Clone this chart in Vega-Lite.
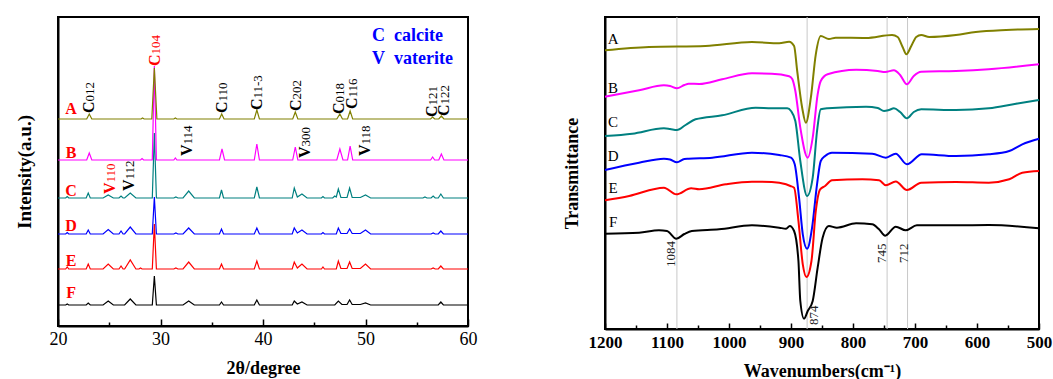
{
"$schema": "https://vega.github.io/schema/vega-lite/v6.json",
"padding": {"left": 14, "top": 15, "right": 0, "bottom": 0},
"background": "white",
"spacing": 84,
"config": {
  "view": {"stroke": "black", "strokeWidth": 2},
  "font": "Liberation Serif",
  "axis": {"labelFont": "Liberation Serif", "titleFont": "Liberation Serif", "labelColor": "black", "titleColor": "black", "domainColor": "black", "tickColor": "black", "domainWidth": 2, "tickWidth": 1.5, "grid": false}
},
"datasets": {
  "xrd": [
    {"s":"F","t":20,"i":21},{"s":"F","t":20.75,"i":21},{"s":"F","t":20.9,"i":22},{"s":"F","t":21.05,"i":21},{"s":"F","t":22.75,"i":21},{"s":"F","t":22.95,"i":23},{"s":"F","t":23.15,"i":21},{"s":"F","t":24.4,"i":21},{"s":"F","t":24.9,"i":25},{"s":"F","t":25.4,"i":21},{"s":"F","t":26.5,"i":21},{"s":"F","t":27.05,"i":27},{"s":"F","t":27.6,"i":21},{"s":"F","t":29.2,"i":21},{"s":"F","t":29.4,"i":50},{"s":"F","t":29.6,"i":21},{"s":"F","t":32.2,"i":21},{"s":"F","t":32.75,"i":25},{"s":"F","t":33.3,"i":21},{"s":"F","t":35.75,"i":21},{"s":"F","t":35.95,"i":24},{"s":"F","t":36.15,"i":21},{"s":"F","t":39.15,"i":21},{"s":"F","t":39.4,"i":26},{"s":"F","t":39.65,"i":21},{"s":"F","t":42.85,"i":21},{"s":"F","t":43.05,"i":25},{"s":"F","t":43.35,"i":22},{"s":"F","t":43.8,"i":24},{"s":"F","t":44.3,"i":21},{"s":"F","t":47.0,"i":21},{"s":"F","t":47.35,"i":25},{"s":"F","t":47.7,"i":21.5},{"s":"F","t":48.2,"i":21.5},{"s":"F","t":48.45,"i":26},{"s":"F","t":48.7,"i":21.5},{"s":"F","t":49.5,"i":21.5},{"s":"F","t":50.0,"i":23},{"s":"F","t":50.5,"i":21},{"s":"F","t":57.1,"i":21},{"s":"F","t":57.35,"i":24},{"s":"F","t":57.6,"i":21},{"s":"F","t":60,"i":21},
    {"s":"E","t":20,"i":57},{"s":"E","t":20.75,"i":57},{"s":"E","t":20.9,"i":59},{"s":"E","t":21.05,"i":57},{"s":"E","t":22.75,"i":57},{"s":"E","t":22.95,"i":62},{"s":"E","t":23.15,"i":57},{"s":"E","t":24.4,"i":57},{"s":"E","t":24.9,"i":62},{"s":"E","t":25.4,"i":57},{"s":"E","t":25.95,"i":57},{"s":"E","t":26.15,"i":60},{"s":"E","t":26.35,"i":57},{"s":"E","t":26.5,"i":57},{"s":"E","t":27.05,"i":66},{"s":"E","t":27.6,"i":57},{"s":"E","t":27.9,"i":57},{"s":"E","t":28.05,"i":58},{"s":"E","t":28.2,"i":57},{"s":"E","t":29.2,"i":57},{"s":"E","t":29.4,"i":102},{"s":"E","t":29.6,"i":57},{"s":"E","t":31.3,"i":57},{"s":"E","t":31.5,"i":58},{"s":"E","t":31.7,"i":57},{"s":"E","t":32.2,"i":57},{"s":"E","t":32.75,"i":64},{"s":"E","t":33.3,"i":57},{"s":"E","t":35.75,"i":57},{"s":"E","t":35.95,"i":62},{"s":"E","t":36.15,"i":57},{"s":"E","t":39.15,"i":57},{"s":"E","t":39.4,"i":65},{"s":"E","t":39.65,"i":57},{"s":"E","t":42.85,"i":57},{"s":"E","t":43.05,"i":64},{"s":"E","t":43.35,"i":58},{"s":"E","t":43.8,"i":62},{"s":"E","t":44.3,"i":57},{"s":"E","t":45.7,"i":57},{"s":"E","t":45.85,"i":59},{"s":"E","t":46.0,"i":57},{"s":"E","t":47.15,"i":57},{"s":"E","t":47.35,"i":65},{"s":"E","t":47.6,"i":57.5},{"s":"E","t":48.2,"i":57.5},{"s":"E","t":48.45,"i":64},{"s":"E","t":48.7,"i":57.5},{"s":"E","t":49.5,"i":57.5},{"s":"E","t":50.0,"i":62},{"s":"E","t":50.5,"i":57},{"s":"E","t":56.4,"i":57},{"s":"E","t":56.6,"i":58},{"s":"E","t":56.8,"i":57},{"s":"E","t":57.1,"i":57},{"s":"E","t":57.35,"i":60},{"s":"E","t":57.6,"i":57},{"s":"E","t":60,"i":57},
    {"s":"D","t":20,"i":92},{"s":"D","t":20.75,"i":92},{"s":"D","t":20.9,"i":93.5},{"s":"D","t":21.05,"i":92},{"s":"D","t":22.75,"i":92},{"s":"D","t":22.95,"i":96},{"s":"D","t":23.15,"i":92},{"s":"D","t":24.4,"i":92},{"s":"D","t":24.9,"i":96.5},{"s":"D","t":25.4,"i":92},{"s":"D","t":25.95,"i":92},{"s":"D","t":26.15,"i":95},{"s":"D","t":26.35,"i":92},{"s":"D","t":26.5,"i":92},{"s":"D","t":27.05,"i":99},{"s":"D","t":27.6,"i":92},{"s":"D","t":29.2,"i":92},{"s":"D","t":29.4,"i":129},{"s":"D","t":29.6,"i":92},{"s":"D","t":31.3,"i":92},{"s":"D","t":31.5,"i":93},{"s":"D","t":31.7,"i":92},{"s":"D","t":32.2,"i":92},{"s":"D","t":32.75,"i":98},{"s":"D","t":33.3,"i":92},{"s":"D","t":35.75,"i":92},{"s":"D","t":35.95,"i":97},{"s":"D","t":36.15,"i":92},{"s":"D","t":39.15,"i":92},{"s":"D","t":39.4,"i":98},{"s":"D","t":39.65,"i":92},{"s":"D","t":42.85,"i":92},{"s":"D","t":43.05,"i":98},{"s":"D","t":43.35,"i":93},{"s":"D","t":43.8,"i":96},{"s":"D","t":44.3,"i":92},{"s":"D","t":45.7,"i":92},{"s":"D","t":45.85,"i":93.5},{"s":"D","t":46.0,"i":92},{"s":"D","t":47.15,"i":92},{"s":"D","t":47.35,"i":98},{"s":"D","t":47.6,"i":92.5},{"s":"D","t":48.2,"i":92.5},{"s":"D","t":48.45,"i":97},{"s":"D","t":48.7,"i":92.5},{"s":"D","t":49.5,"i":92.5},{"s":"D","t":50.0,"i":96},{"s":"D","t":50.5,"i":92},{"s":"D","t":56.4,"i":92},{"s":"D","t":56.6,"i":93},{"s":"D","t":56.8,"i":92},{"s":"D","t":57.1,"i":92},{"s":"D","t":57.35,"i":95},{"s":"D","t":57.6,"i":92},{"s":"D","t":60,"i":92},
    {"s":"C","t":20,"i":128},{"s":"C","t":20.75,"i":128},{"s":"C","t":20.9,"i":129.5},{"s":"C","t":21.05,"i":128},{"s":"C","t":22.75,"i":128},{"s":"C","t":22.95,"i":133},{"s":"C","t":23.15,"i":128},{"s":"C","t":24.4,"i":128},{"s":"C","t":24.9,"i":131},{"s":"C","t":25.4,"i":128},{"s":"C","t":25.95,"i":128},{"s":"C","t":26.15,"i":130},{"s":"C","t":26.35,"i":128},{"s":"C","t":26.5,"i":128},{"s":"C","t":27.05,"i":133},{"s":"C","t":27.6,"i":128},{"s":"C","t":29.2,"i":128},{"s":"C","t":29.4,"i":193},{"s":"C","t":29.6,"i":128},{"s":"C","t":31.3,"i":128},{"s":"C","t":31.5,"i":129},{"s":"C","t":31.7,"i":128},{"s":"C","t":32.2,"i":128},{"s":"C","t":32.75,"i":135},{"s":"C","t":33.3,"i":128},{"s":"C","t":35.75,"i":128},{"s":"C","t":35.95,"i":136},{"s":"C","t":36.15,"i":128},{"s":"C","t":39.15,"i":128},{"s":"C","t":39.4,"i":139},{"s":"C","t":39.65,"i":128},{"s":"C","t":42.85,"i":128},{"s":"C","t":43.05,"i":138},{"s":"C","t":43.35,"i":129},{"s":"C","t":43.8,"i":132},{"s":"C","t":44.3,"i":128},{"s":"C","t":45.7,"i":128},{"s":"C","t":45.85,"i":129.5},{"s":"C","t":46.0,"i":128},{"s":"C","t":46.8,"i":128},{"s":"C","t":47.0,"i":130},{"s":"C","t":47.15,"i":129},{"s":"C","t":47.35,"i":137},{"s":"C","t":47.6,"i":128.5},{"s":"C","t":48.2,"i":128.5},{"s":"C","t":48.45,"i":138},{"s":"C","t":48.7,"i":128.5},{"s":"C","t":49.5,"i":128.5},{"s":"C","t":50.0,"i":131},{"s":"C","t":50.5,"i":128},{"s":"C","t":55.6,"i":128},{"s":"C","t":55.8,"i":129},{"s":"C","t":56.0,"i":128},{"s":"C","t":56.4,"i":128},{"s":"C","t":56.6,"i":130},{"s":"C","t":56.8,"i":128},{"s":"C","t":57.1,"i":128},{"s":"C","t":57.35,"i":132},{"s":"C","t":57.6,"i":128},{"s":"C","t":60,"i":128},
    {"s":"B","t":20,"i":166},{"s":"B","t":22.8,"i":166},{"s":"B","t":23.05,"i":173},{"s":"B","t":23.3,"i":166},{"s":"B","t":28.05,"i":166},{"s":"B","t":28.2,"i":167.5},{"s":"B","t":28.35,"i":166},{"s":"B","t":29.2,"i":166},{"s":"B","t":29.4,"i":260},{"s":"B","t":29.6,"i":166},{"s":"B","t":31.3,"i":166},{"s":"B","t":31.45,"i":168},{"s":"B","t":31.6,"i":166},{"s":"B","t":35.75,"i":166},{"s":"B","t":36.0,"i":177},{"s":"B","t":36.25,"i":166},{"s":"B","t":39.15,"i":166},{"s":"B","t":39.4,"i":182},{"s":"B","t":39.65,"i":166},{"s":"B","t":42.9,"i":166},{"s":"B","t":43.15,"i":179},{"s":"B","t":43.4,"i":166},{"s":"B","t":47.2,"i":166},{"s":"B","t":47.5,"i":177},{"s":"B","t":47.8,"i":166},{"s":"B","t":48.25,"i":166},{"s":"B","t":48.5,"i":180},{"s":"B","t":48.75,"i":166},{"s":"B","t":56.35,"i":166},{"s":"B","t":56.55,"i":169},{"s":"B","t":56.75,"i":166},{"s":"B","t":57.15,"i":166},{"s":"B","t":57.4,"i":172},{"s":"B","t":57.65,"i":166},{"s":"B","t":60,"i":166},
    {"s":"A","t":20,"i":207},{"s":"A","t":22.8,"i":207},{"s":"A","t":23.05,"i":212},{"s":"A","t":23.3,"i":207},{"s":"A","t":28.1,"i":207},{"s":"A","t":28.25,"i":208},{"s":"A","t":28.4,"i":207},{"s":"A","t":29.15,"i":207},{"s":"A","t":29.4,"i":258},{"s":"A","t":29.65,"i":207},{"s":"A","t":31.3,"i":207},{"s":"A","t":31.45,"i":208},{"s":"A","t":31.6,"i":207},{"s":"A","t":35.75,"i":207},{"s":"A","t":35.97,"i":212},{"s":"A","t":36.2,"i":207},{"s":"A","t":39.15,"i":207},{"s":"A","t":39.4,"i":216},{"s":"A","t":39.65,"i":207},{"s":"A","t":42.9,"i":207},{"s":"A","t":43.15,"i":214},{"s":"A","t":43.4,"i":207},{"s":"A","t":47.2,"i":207},{"s":"A","t":47.5,"i":212},{"s":"A","t":47.75,"i":207},{"s":"A","t":48.25,"i":207},{"s":"A","t":48.5,"i":215},{"s":"A","t":48.75,"i":207},{"s":"A","t":56.35,"i":207},{"s":"A","t":56.55,"i":209},{"s":"A","t":56.75,"i":207},{"s":"A","t":57.15,"i":207},{"s":"A","t":57.4,"i":210},{"s":"A","t":57.65,"i":207},{"s":"A","t":60,"i":207}
  ],
  "xl": [
    {"l":"C","sub":"012","t":23.05,"i":213,"k":"n"},
    {"l":"C","sub":"104","t":29.45,"i":260,"k":"h"},
    {"l":"C","sub":"110","t":36.0,"i":213,"k":"n"},
    {"l":"C","sub":"11-3","t":39.45,"i":216,"k":"n"},
    {"l":"C","sub":"202","t":43.2,"i":215,"k":"n"},
    {"l":"C","sub":"018","t":47.4,"i":212,"k":"n"},
    {"l":"C","sub":"116","t":48.7,"i":217,"k":"n"},
    {"l":"C","sub":"121","t":56.5,"i":209,"k":"n"},
    {"l":"C","sub":"122","t":57.65,"i":210,"k":"n"},
    {"l":"V","sub":"114","t":32.6,"i":170,"k":"n"},
    {"l":"V","sub":"300","t":44.1,"i":168,"k":"n"},
    {"l":"V","sub":"118","t":49.95,"i":170,"k":"n"},
    {"l":"V","sub":"110","t":25.05,"i":132,"k":"h"},
    {"l":"V","sub":"112","t":26.9,"i":135,"k":"n"}
  ],
  "xs": [
    {"n":"A","t":21.27,"i":217},{"n":"B","t":21.27,"i":173},{"n":"C","t":21.27,"i":135},{"n":"D","t":21.27,"i":100},{"n":"E","t":21.27,"i":65},{"n":"F","t":21.27,"i":33}
  ],
  "xk": [
    {"txt":"C\u00a0\u00a0calcite","t":50.63,"i":290},
    {"txt":"V\u00a0\u00a0vaterite","t":50.63,"i":267}
  ],
  "ir": [
    {"s":"A","w":1200,"T":278.7},{"s":"A","w":1129,"T":282},{"s":"A","w":1038,"T":283},{"s":"A","w":963,"T":287},{"s":"A","w":919,"T":285.7},{"s":"A","w":903,"T":287.3},{"s":"A","w":895,"T":283},{"s":"A","w":890,"T":258},{"s":"A","w":882,"T":221.3},{"s":"A","w":876,"T":206.3},{"s":"A","w":868,"T":231.3},{"s":"A","w":860,"T":274.7},{"s":"A","w":852,"T":293},{"s":"A","w":839,"T":290},{"s":"A","w":828,"T":291.3},{"s":"A","w":779,"T":291},{"s":"A","w":737,"T":294},{"s":"A","w":728,"T":292},{"s":"A","w":720,"T":282},{"s":"A","w":714,"T":274.7},{"s":"A","w":706,"T":283},{"s":"A","w":698,"T":292},{"s":"A","w":690,"T":294},{"s":"A","w":677,"T":292},{"s":"A","w":634,"T":294},{"s":"A","w":602,"T":297},{"s":"A","w":553,"T":299},{"s":"A","w":500,"T":300},
    {"s":"B","w":1200,"T":232.3},{"s":"B","w":1145,"T":238.7},{"s":"B","w":1105,"T":243.7},{"s":"B","w":1095,"T":243},{"s":"B","w":1084,"T":240.7},{"s":"B","w":1072,"T":244},{"s":"B","w":1065,"T":245.3},{"s":"B","w":1048,"T":245},{"s":"B","w":1011,"T":249.7},{"s":"B","w":963,"T":255.7},{"s":"B","w":931,"T":255.3},{"s":"B","w":903,"T":252.7},{"s":"B","w":898,"T":250},{"s":"B","w":893,"T":238},{"s":"B","w":885,"T":201.3},{"s":"B","w":873,"T":171.3},{"s":"B","w":865,"T":191.3},{"s":"B","w":857,"T":234.7},{"s":"B","w":852,"T":248},{"s":"B","w":841,"T":254.7},{"s":"B","w":795,"T":259.3},{"s":"B","w":760,"T":258},{"s":"B","w":748,"T":257},{"s":"B","w":734,"T":258.7},{"s":"B","w":724,"T":254},{"s":"B","w":713,"T":244.7},{"s":"B","w":702,"T":253},{"s":"B","w":690,"T":257.3},{"s":"B","w":634,"T":258},{"s":"B","w":581,"T":259.7},{"s":"B","w":500,"T":264.7},
    {"s":"C","w":1200,"T":193},{"s":"C","w":1156,"T":195.3},{"s":"C","w":1105,"T":200.7},{"s":"C","w":1095,"T":200},{"s":"C","w":1084,"T":199},{"s":"C","w":1070,"T":204},{"s":"C","w":1054,"T":209.7},{"s":"C","w":1011,"T":213.7},{"s":"C","w":957,"T":221.3},{"s":"C","w":931,"T":220.7},{"s":"C","w":906,"T":220.7},{"s":"C","w":900,"T":218},{"s":"C","w":893,"T":208},{"s":"C","w":885,"T":168},{"s":"C","w":874,"T":133},{"s":"C","w":865,"T":151.3},{"s":"C","w":858,"T":198},{"s":"C","w":852,"T":219.7},{"s":"C","w":841,"T":220.7},{"s":"C","w":779,"T":222.3},{"s":"C","w":760,"T":221},{"s":"C","w":750,"T":218},{"s":"C","w":742,"T":219},{"s":"C","w":734,"T":220.7},{"s":"C","w":724,"T":217},{"s":"C","w":713,"T":210.7},{"s":"C","w":702,"T":217},{"s":"C","w":690,"T":219.7},{"s":"C","w":634,"T":219},{"s":"C","w":581,"T":220.7},{"s":"C","w":537,"T":225.3},{"s":"C","w":500,"T":229},
    {"s":"D","w":1200,"T":159},{"s":"D","w":1145,"T":166.3},{"s":"D","w":1105,"T":170.3},{"s":"D","w":1095,"T":169.5},{"s":"D","w":1084,"T":166.7},{"s":"D","w":1072,"T":170},{"s":"D","w":1065,"T":170.3},{"s":"D","w":1027,"T":171.3},{"s":"D","w":963,"T":176.3},{"s":"D","w":919,"T":174},{"s":"D","w":900,"T":171.3},{"s":"D","w":894,"T":164.7},{"s":"D","w":887,"T":131.3},{"s":"D","w":881,"T":94.7},{"s":"D","w":874,"T":80.3},{"s":"D","w":866,"T":101.3},{"s":"D","w":858,"T":144.7},{"s":"D","w":852,"T":168},{"s":"D","w":845,"T":173},{"s":"D","w":834,"T":176.3},{"s":"D","w":769,"T":175.3},{"s":"D","w":747,"T":171.3},{"s":"D","w":731,"T":175.3},{"s":"D","w":713,"T":164.7},{"s":"D","w":689,"T":174.7},{"s":"D","w":634,"T":173},{"s":"D","w":581,"T":174.7},{"s":"D","w":548,"T":178},{"s":"D","w":527,"T":184.7},{"s":"D","w":500,"T":190.3},
    {"s":"E","w":1200,"T":128.7},{"s":"E","w":1161,"T":133},{"s":"E","w":1105,"T":141.3},{"s":"E","w":1085,"T":134.7},{"s":"E","w":1061,"T":140.7},{"s":"E","w":1048,"T":139.7},{"s":"E","w":1005,"T":144.7},{"s":"E","w":963,"T":147.3},{"s":"E","w":931,"T":147},{"s":"E","w":908,"T":144.7},{"s":"E","w":901,"T":143},{"s":"E","w":895,"T":141.3},{"s":"E","w":888,"T":108},{"s":"E","w":881,"T":64.7},{"s":"E","w":875,"T":52},{"s":"E","w":867,"T":68},{"s":"E","w":860,"T":118},{"s":"E","w":853,"T":139.7},{"s":"E","w":845,"T":143},{"s":"E","w":834,"T":148.7},{"s":"E","w":785,"T":149.7},{"s":"E","w":758,"T":148.7},{"s":"E","w":747,"T":143.7},{"s":"E","w":731,"T":147.5},{"s":"E","w":713,"T":139},{"s":"E","w":690,"T":146.3},{"s":"E","w":634,"T":147},{"s":"E","w":581,"T":146.3},{"s":"E","w":548,"T":149.7},{"s":"E","w":527,"T":156.3},{"s":"E","w":500,"T":158},
    {"s":"F","w":1200,"T":95.3},{"s":"F","w":1145,"T":96.3},{"s":"F","w":1113,"T":98.7},{"s":"F","w":1100,"T":98},{"s":"F","w":1085,"T":90.3},{"s":"F","w":1072,"T":95},{"s":"F","w":1060,"T":98},{"s":"F","w":1016,"T":99.7},{"s":"F","w":963,"T":103.7},{"s":"F","w":919,"T":101.3},{"s":"F","w":908,"T":100.3},{"s":"F","w":902,"T":103},{"s":"F","w":895,"T":98},{"s":"F","w":888,"T":68},{"s":"F","w":885,"T":28},{"s":"F","w":879,"T":10.3},{"s":"F","w":873,"T":18},{"s":"F","w":865,"T":28},{"s":"F","w":857,"T":61.3},{"s":"F","w":849,"T":91.3},{"s":"F","w":839,"T":103},{"s":"F","w":826,"T":101.3},{"s":"F","w":795,"T":105.7},{"s":"F","w":769,"T":104.7},{"s":"F","w":758,"T":99.7},{"s":"F","w":748,"T":93.3},{"s":"F","w":731,"T":102.3},{"s":"F","w":715,"T":98.7},{"s":"F","w":697,"T":103.7},{"s":"F","w":634,"T":103.7},{"s":"F","w":581,"T":104},{"s":"F","w":500,"T":100.7}
  ],
  "il": [
    {"n":"A","w":1187,"T":290},{"n":"B","w":1187,"T":241},{"n":"C","w":1187,"T":207},{"n":"D","w":1187,"T":173},{"n":"E","w":1187,"T":141},{"n":"F","w":1187,"T":107}
  ],
  "ia": [
    {"txt":"1084","w":1093,"T":62},{"txt":"874","w":863,"T":4},{"txt":"745","w":753,"T":66},{"txt":"712","w":718,"T":66}
  ],
  "ig": [{"w":1084},{"w":874},{"w":745},{"w":712}]
},
"hconcat": [
  {
    "width": 410, "height": 309,
    "resolve": {"axis": {"x": "independent"}},
    "layer": [
      {
        "layer": [
          {
            "data": {"name": "xrd"},
            "mark": {"type": "line", "strokeWidth": 1.2},
            "encoding": {
              "x": {"field": "t", "type": "quantitative", "scale": {"domain": [20, 60], "nice": false, "zero": false},
                    "axis": {"values": [20, 30, 40, 50, 60], "format": "d", "title": "2θ/degree", "tickSize": -7, "labelFontSize": 18, "titleFontSize": 18, "titleFontWeight": "bold", "labelPadding": 11, "titlePadding": 11, "labelFlush": false}},
              "y": {"field": "i", "type": "quantitative", "scale": {"domain": [0, 309], "nice": false, "zero": false},
                    "axis": {"labels": false, "ticks": false, "title": "Intensity(a.u.)", "titleFontSize": 19, "titleFontWeight": "bold", "titlePadding": 24}},
              "color": {"field": "s", "type": "nominal", "scale": {"domain": ["A", "B", "C", "D", "E", "F"], "range": ["#808000", "#FF00FF", "#008080", "#0000FF", "#FF0000", "#000000"]}, "legend": null}
            }
          },
          {
            "data": {"name": "xl"},
            "mark": {"type": "text", "angle": 270, "align": "left", "baseline": "alphabetic", "dy": 5, "fontSize": 16, "fontWeight": "bold", "font": "Liberation Serif"},
            "encoding": {
              "x": {"field": "t", "type": "quantitative"},
              "y": {"field": "i", "type": "quantitative"},
              "text": {"field": "l"},
              "color": {"condition": {"test": "datum.k == 'h'", "value": "#FF0000"}, "value": "#000000"}
            }
          },
          {
            "data": {"name": "xl"},
            "mark": {"type": "text", "angle": 270, "align": "left", "baseline": "alphabetic", "dy": 5, "dx": 11.5, "fontSize": 13, "font": "Liberation Serif"},
            "encoding": {
              "x": {"field": "t", "type": "quantitative"},
              "y": {"field": "i", "type": "quantitative"},
              "text": {"field": "sub"},
              "color": {"condition": {"test": "datum.k == 'h'", "value": "#FF0000"}, "value": "#000000"}
            }
          },
          {
            "data": {"name": "xs"},
            "mark": {"type": "text", "align": "center", "baseline": "middle", "fontSize": 16, "fontWeight": "bold", "font": "Liberation Serif", "color": "#FF0000"},
            "encoding": {
              "x": {"field": "t", "type": "quantitative"},
              "y": {"field": "i", "type": "quantitative"},
              "text": {"field": "n"}
            }
          },
          {
            "data": {"name": "xk"},
            "mark": {"type": "text", "align": "left", "baseline": "middle", "fontSize": 18, "fontWeight": "bold", "font": "Liberation Serif", "color": "#0000FF"},
            "encoding": {
              "x": {"field": "t", "type": "quantitative"},
              "y": {"field": "i", "type": "quantitative"},
              "text": {"field": "txt"}
            }
          }
        ]
      },
      {
        "data": {"values": [{"t": 40}]},
        "mark": {"type": "point", "opacity": 0},
        "encoding": {
          "x": {"field": "t", "type": "quantitative", "axis": {"orient": "bottom", "values": [25, 35, 45, 55], "labels": false, "domain": false, "tickSize": -4, "title": null}}
        }
      }
    ]
  },
  {
    "width": 434, "height": 312,
    "resolve": {"axis": {"x": "independent"}},
    "layer": [
      {
        "layer": [
          {
            "data": {"name": "ig"},
            "mark": {"type": "rule", "color": "#c8c8c8", "strokeWidth": 1},
            "encoding": {"x": {"field": "w", "type": "quantitative"}}
          },
          {
            "data": {"name": "ir"},
            "mark": {"type": "line", "strokeWidth": 2, "interpolate": "monotone"},
            "encoding": {
              "x": {"field": "w", "type": "quantitative", "scale": {"domain": [500, 1200], "reverse": true, "nice": false, "zero": false},
                    "axis": {"values": [1200, 1100, 1000, 900, 800, 700, 600, 500], "format": "d", "title": "Wavenumbers(cm⁻¹)", "tickSize": -6, "labelFontSize": 17, "labelFontWeight": "bold", "titleFontSize": 18, "titleFontWeight": "bold", "labelPadding": 11, "titlePadding": 12, "labelFlush": false}},
              "y": {"field": "T", "type": "quantitative", "scale": {"domain": [0, 312], "nice": false, "zero": false},
                    "axis": {"labels": false, "ticks": false, "title": "Transmittance", "titleFontSize": 18, "titleFontWeight": "bold", "titlePadding": 24}},
              "color": {"field": "s", "type": "nominal", "scale": {"domain": ["A", "B", "C", "D", "E", "F"], "range": ["#808000", "#FF00FF", "#008080", "#0000FF", "#FF0000", "#000000"]}, "legend": null}
            }
          },
          {
            "data": {"name": "il"},
            "mark": {"type": "text", "align": "center", "baseline": "middle", "fontSize": 15, "font": "Liberation Serif", "color": "#000000"},
            "encoding": {
              "x": {"field": "w", "type": "quantitative"},
              "y": {"field": "T", "type": "quantitative"},
              "text": {"field": "n"}
            }
          },
          {
            "data": {"name": "ia"},
            "mark": {"type": "text", "angle": 270, "align": "left", "baseline": "middle", "fontSize": 13, "font": "Liberation Serif", "color": "#222222"},
            "encoding": {
              "x": {"field": "w", "type": "quantitative"},
              "y": {"field": "T", "type": "quantitative"},
              "text": {"field": "txt"}
            }
          }
        ]
      },
      {
        "data": {"values": [{"w": 850}]},
        "mark": {"type": "point", "opacity": 0},
        "encoding": {
          "x": {"field": "w", "type": "quantitative", "axis": {"orient": "bottom", "values": [1150, 1050, 950, 850, 750, 650, 550], "labels": false, "domain": false, "tickSize": -4, "title": null}}
        }
      }
    ]
  }
]
}
